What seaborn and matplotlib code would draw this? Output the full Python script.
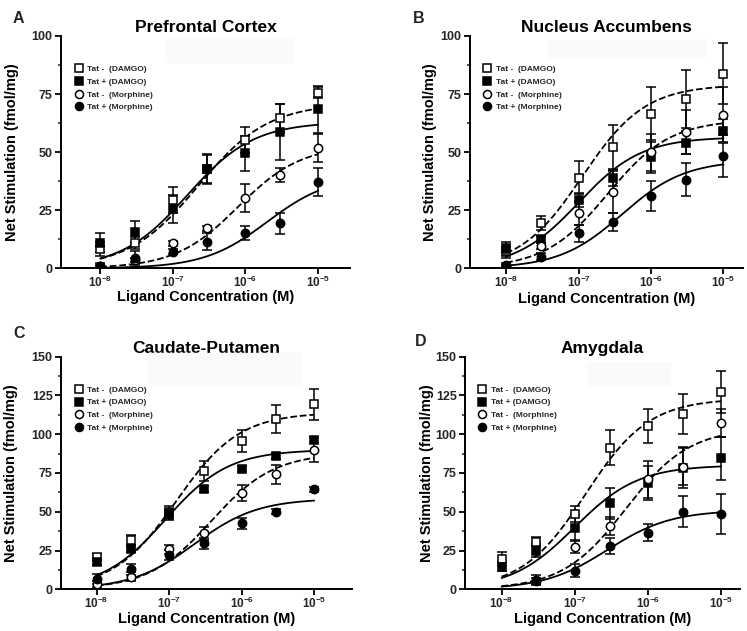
import numpy as np
import matplotlib
import seaborn as sns
from matplotlib import pyplot as plt
from matplotlib.lines import Line2D
from matplotlib.ticker import MultipleLocator, NullLocator
import warnings
warnings.filterwarnings("ignore")
matplotlib.use('Agg')

# ligand concentrations (M)
conc = [1e-8, 3e-8, 1e-7, 3e-7, 1e-6, 3e-6, 1e-5]
series = ['Tat -  (DAMGO)', 'Tat + (DAMGO)', 'Tat -  (Morphine)', 'Tat + (Morphine)']
titles = ['Prefrontal Cortex', 'Nucleus Accumbens', 'Caudate-Putamen', 'Amygdala']
letters = ['A', 'B', 'C', 'D']

# net stimulation means (fmol/mg), order: Tat-DAMGO, Tat+DAMGO, Tat-Morphine, Tat+Morphine
pfc_mean = [[8.2, 11, 29.4, 42.9, 55.2, 64.6, 75.6],
            [11, 15.8, 25.4, 42.6, 49.5, 58.8, 68.4],
            [1.1, 3.5, 10.8, 17.2, 30.1, 40.2, 51.6],
            [1.0, 4.3, 7.2, 11.5, 15.1, 19.4, 37]]
pfc_sem = [[3, 2.5, 5.5, 6, 5.5, 6, 2.5],
           [4, 4.5, 6, 6.5, 7.5, 12, 10],
           [1, 1, 1, 1, 6, 3, 6],
           [0.5, 3, 1, 3.5, 3, 4.5, 6]]
nac_mean = [[7.5, 19.6, 39, 52.3, 66.6, 72.8, 83.8],
            [8.2, 12.5, 29.4, 39, 47.7, 54, 59.2],
            [1.4, 9.6, 23.6, 33, 50, 58.7, 66],
            [1.0, 5, 15, 20, 31, 38.2, 48.3]]
nac_sem = [[3, 3, 7, 9.5, 11.5, 12.5, 13],
           [3, 1.5, 3, 3.5, 6.5, 5, 5],
           [1, 1.5, 5, 9, 8, 9.5, 12],
           [0.5, 1.5, 3.5, 4, 6.5, 7, 9]]
cpu_mean = [[20.9, 31.8, 49.5, 76.3, 95.7, 109.7, 119.4],
            [17.4, 25.8, 48.6, 64.7, 77.4, 86.2, 96.3],
            [3.4, 8.2, 25.8, 36.1, 62, 74.2, 90],
            [6.7, 12.9, 22.2, 29.7, 42.6, 50.1, 64.5]]
cpu_sem = [[2, 3, 4, 6.5, 7, 9, 10],
           [2, 1.5, 4, 2, 2, 2, 2],
           [2, 3, 3, 4, 5, 6, 8],
           [3, 3.5, 3, 3.5, 3.5, 1.5, 1.5]]
amy_mean = [[19.6, 30.8, 48.6, 91.4, 105.4, 113, 127],
            [14.6, 25, 39.8, 55.5, 68.8, 78.5, 84.5],
            [np.nan, 5.5, 27.1, 40.9, 71, 79, 107.5],
            [np.nan, 6, 12, 28, 36.6, 49.9, 48.4]]
amy_sem = [[4.5, 3, 5, 11.5, 11, 13, 13.5],
           [3, 4, 8, 10, 11, 13, 14],
           [np.nan, 2, 4, 6, 12, 12, 9],
           [np.nan, 3.5, 4, 5, 5.5, 10, 13]]

# fitted dose-response parameters: Emax, logEC50, Hill slope
pfc_fit = [[71, -6.65, 0.9], [63, -6.8, 0.95], [53, -6.1, 1], [40, -5.7, 1]]
nac_fit = [[79, -6.95, 1], [56.5, -7.0, 1], [64, -6.6, 1], [46.5, -6.4, 1]]
cpu_fit = [[114, -6.9, 1], [90, -7.05, 1], [88, -6.42, 1], [58.5, -6.65, 1]]
amy_fit = [[123, -6.85, 1], [80, -7.0, 1], [104, -6.3, 1], [51, -6.55, 1]]

means = [pfc_mean, nac_mean, cpu_mean, amy_mean]
sems = [pfc_sem, nac_sem, cpu_sem, amy_sem]
fits = [pfc_fit, nac_fit, cpu_fit, amy_fit]
ymax = [100, 100, 150, 150]

sns.set_theme(style='ticks')
plt.rcParams['font.family'] = ['Liberation Sans', 'DejaVu Sans']
plt.rcParams['font.weight'] = 'bold'
plt.rcParams['axes.labelweight'] = 'bold'
plt.rcParams['axes.titleweight'] = 'bold'
plt.rcParams['mathtext.fontset'] = 'custom'
plt.rcParams['mathtext.bf'] = 'Liberation Sans:bold'
plt.rcParams['mathtext.rm'] = 'Liberation Sans:bold'
plt.rcParams['mathtext.default'] = 'bf'

W, H = 747, 631
fig = plt.figure(figsize=(W / 100, H / 100), dpi=100)

# axes boxes in pixels: left, right, top, bottom, and x-limits (log10)
boxes = [(61, 350, 36, 268.3, -8.54, -4.56),
         (470, 743, 36, 268.3, -8.5, -4.73),
         (61, 352, 356.7, 589.3, -8.49, -4.48),
         (465, 740, 356.7, 589.3, -8.5, -4.74)]
ylab_right = [19, 437, 18, 434]
xlab_top = [290, 292, 612, 612]
letter_pos = [(13, 23), (413, 23), (13, 338), (415, 346)]
# faint grey patches seen behind the titles
smudges = [(165, 292, 38, 62), (548, 706, 40, 57), (148, 300, 353, 385), (588, 670, 362, 385)]

styles = [dict(marker='s', mfc='white', ls='--'),
          dict(marker='s', mfc='black', ls='-'),
          dict(marker='o', mfc='white', ls='--'),
          dict(marker='o', mfc='black', ls='-')]

xs = np.logspace(-8, -5, 300)

for i in range(4):
    l, r, t, b, x0, x1 = boxes[i]
    sl, sr, st, sb = smudges[i]
    fig.patches.append(plt.Rectangle((sl / W, 1 - sb / H), (sr - sl) / W, (sb - st) / H,
                                     transform=fig.transFigure, color='#fafafa', zorder=0))
    ax = fig.add_axes([l / W, 1 - b / H, (r - l) / W, (b - t) / H])
    ax.patch.set_alpha(0)

    for k in range(4):
        emax, logec, hill = fits[i][k]
        ys = emax / (1 + 10 ** ((logec - np.log10(xs)) * hill))
        sns.lineplot(x=xs, y=ys, ax=ax, color='black', lw=1.3,
                     linestyle=styles[k]['ls'], zorder=2)
    for k in range(4):
        ax.errorbar(conc, means[i][k], yerr=sems[i][k], fmt='none', ecolor='black',
                    elinewidth=1.1, capsize=3.8, capthick=1.1, zorder=3)
        ms = 6.2 if styles[k]['marker'] == 's' else 6.0
        ax.plot(conc, means[i][k], ls='none', marker=styles[k]['marker'],
                mfc=styles[k]['mfc'], mec='black', mew=1.1, ms=ms, zorder=4)

    ax.set_xscale('log')
    ax.set_xlim(10 ** x0, 10 ** x1)
    ax.set_ylim(0, ymax[i])
    ax.set_xticks([1e-8, 1e-7, 1e-6, 1e-5])
    ax.set_xticklabels([r'$\mathbf{10^{-8}}$', r'$\mathbf{10^{-7}}$',
                        r'$\mathbf{10^{-6}}$', r'$\mathbf{10^{-5}}$'])
    ax.xaxis.set_minor_locator(NullLocator())
    ax.yaxis.set_major_locator(MultipleLocator(25))
    ax.yaxis.set_minor_locator(MultipleLocator(12.5))
    ax.tick_params(axis='both', which='major', direction='out', length=4, width=1.3,
                   labelsize=9, pad=2, color='black')
    ax.tick_params(axis='x', which='major', pad=1, labelsize=8.5)
    ax.tick_params(axis='y', which='minor', direction='out', length=2.5, width=1.1)
    for lab in ax.get_yticklabels():
        lab.set_fontweight('bold')
    sns.despine(ax=ax)
    for s in ['left', 'bottom']:
        ax.spines[s].set_linewidth(1.4)
        ax.spines[s].set_color('black')

    ax.set_title(titles[i], fontsize=12.5, pad=3, color='black')
    ax.set_xlabel('Ligand Concentration (M)', fontsize=10.5, color='black')
    ax.set_ylabel('Net Stimulation (fmol/mg)', fontsize=10.5, color='black')
    ax.yaxis.set_label_coords((ylab_right[i] - l) / (r - l), 0.5)
    ax.xaxis.set_label_coords(0.5, -(xlab_top[i] - b) / (b - t))

    handles = [Line2D([], [], ls='none', marker=st['marker'], mfc=st['mfc'], mec='black',
                      mew=1.1, ms=5.8) for st in styles]
    leg = ax.legend(handles, series, loc='upper left', bbox_to_anchor=(0.03, 0.9),
                    frameon=False, prop={'size': 6.0, 'weight': 'bold'},
                    handlelength=0.8, handletextpad=0.6, labelspacing=0.6, borderpad=0.2)

    lx, ly = letter_pos[i]
    fig.text(lx / W, 1 - ly / H, letters[i], fontsize=11.5, fontweight='bold',
             ha='left', va='baseline')

fig.savefig('out.png', dpi=100)
